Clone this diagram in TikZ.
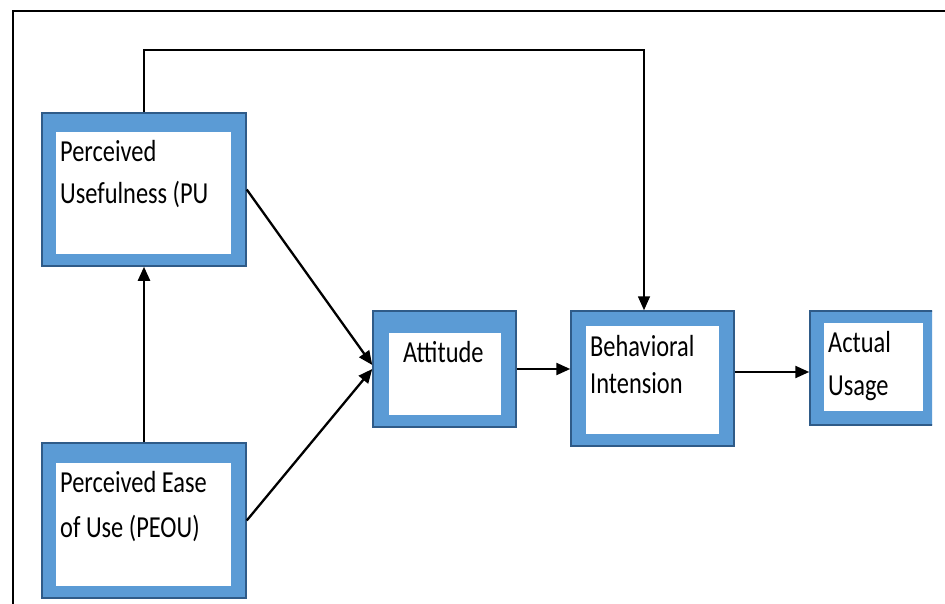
\documentclass[tikz,border=0pt]{standalone}
\usepackage{fontspec}
\setmainfont{Carlito}
\usepackage{graphicx}
\usetikzlibrary{arrows.meta}
\definecolor{boxblue}{HTML}{5B9BD5}
\definecolor{boxedge}{HTML}{2F5B88}

% multi-line label: #1 = line pitch before the vertical stretch, #2 = lines
\newcommand{\tamlines}[2]{\scalebox{1}[1.25]{\fontsize{24.4pt}{#1}\selectfont\begin{tabular}[t]{@{}l@{}}#2\end{tabular}}}

\tikzset{
  outerbox/.style={draw=boxedge, line width=1.5pt, fill=boxblue, inner sep=0pt},
  innerbox/.style={fill=white, inner sep=0pt},
  label/.style={inner sep=0pt, anchor=base west, text=black},
  conn/.style={line width=2.3pt, -{Triangle[length=14pt,width=12pt]}},
  thinconn/.style={line width=1.6pt, -{Triangle[length=14pt,width=12pt]}},
  frame/.style={line width=1.7pt},
}

\begin{document}
\begin{tikzpicture}[x=1pt, y=-1pt]
\useasboundingbox (0,0) rectangle (945,604);

% outer frame (top and left sides)
\draw[frame] (945,11) -- (13,11) -- (13,604);

% Perceived Usefulness
\node[outerbox, minimum width=204pt, minimum height=153pt] (pu) at (144,189.5) {};
\node[innerbox, minimum width=175pt, minimum height=122pt] (pu-in) at (143.5,193) {};
\node[label] (pu-t) at (60,162) {\tamlines{33.6pt}{Perceived\\Usefulness (PU}};

% Perceived Ease of Use
\node[outerbox, minimum width=204pt, minimum height=155pt] (peou) at (144,520.5) {};
\node[innerbox, minimum width=175pt, minimum height=123pt] (peou-in) at (143.5,524.5) {};
\node[label] (peou-t) at (60,492) {\tamlines{36pt}{Perceived Ease\\of Use (PEOU)}};

% Attitude
\node[outerbox, minimum width=143pt, minimum height=116pt] (att) at (444.5,369) {};
\node[innerbox, minimum width=112pt, minimum height=82pt] (att-in) at (445,374) {};
\node[label] (att-t) at (403,362) {\tamlines{30pt}{Attitude}};

% Behavioral Intension
\node[outerbox, minimum width=163pt, minimum height=135pt] (beh) at (652.5,378.5) {};
\node[innerbox, minimum width=133pt, minimum height=108pt] (beh-in) at (652.5,380) {};
\node[label] (beh-t) at (590,356) {\tamlines{29.6pt}{Behavioral\\Intension}};

% Actual Usage (cut at the right edge)
\begin{scope}
  \clip (800,300) rectangle (932,440);
  \node[outerbox, minimum width=126pt, minimum height=114pt] (act) at (873,368) {};
\end{scope}
\node[innerbox, minimum width=99pt, minimum height=88pt] (act-in) at (873.5,367) {};
\node[label] (act-t) at (828,352.5) {\tamlines{34.4pt}{Actual\\Usage}};

% connectors
\coordinate (bend) at (644,50);
\draw[thinconn] (pu.north) |- (bend) -- (bend |- beh.north);
\draw[conn] (peou.north) -- (pu.south);
\draw[conn] (pu.east) -- ([yshift=4pt]att.west);
\draw[conn] (peou.east) -- (att.west);
\draw[conn] (att.east) -- (att.east -| beh.west);
\draw[conn] ([yshift=6.5pt]beh.east) coordinate (bx) -- (bx -| act.west);
\end{tikzpicture}
\end{document}
